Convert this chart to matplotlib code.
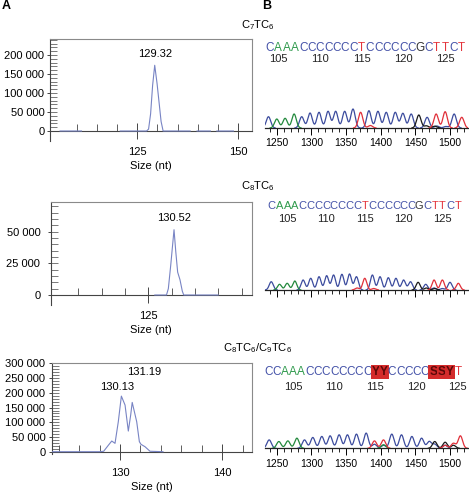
import numpy as np
import matplotlib
matplotlib.use("Agg")
import matplotlib.pyplot as plt
import matplotlib.transforms as mtransforms
from matplotlib.ticker import FixedLocator, FuncFormatter, MultipleLocator

plt.rcParams["font.family"] = ["Liberation Sans", "DejaVu Sans"]
plt.rcParams["mathtext.default"] = "regular"

W, H = 469, 493  # output size in pixels
DPI = 100
nan = np.nan

# ---------------------------------------------------------------- panel A data
# fragment sizing traces: size (nt) vs signal (RFU), NaN = gap in the trace
a_titles = ["C$_7$TC$_6$", "C$_8$TC$_6$", "C$_8$TC$_6$/C$_9$TC$_6$"]

a1_size = [105.9, 111.2, nan, 120.8, 127.3, 127.8, 128.3, 128.8, 129.32, 129.9,
           130.4, 130.9, 131.4, 138.1, nan, 139.8, 143.1, nan, 144.7, 148.8]
a1_rfu = [0, 0, nan, 0, 0, 5000, 45000, 120000, 173000, 125000,
          75000, 25000, 0, 0, nan, 0, 0, nan, 0, 0]
a1_peaks = [129.32]

a2_size = [126.4, 128.9, 129.3, 129.8, 130.52, 130.9, 131.3, 131.8, 132.3, 132.6, 140.0]
a2_rfu = [0, 0, 5000, 23000, 51500, 34000, 18000, 12000, 3000, 0, 0]
a2_peaks = [130.52]

a3_size = [123.4, 128.0, 128.4, 128.86, 129.19, 129.51, 129.83, 130.13, 130.49,
           130.81, 131.04, 131.19, 131.63, 131.89, 132.05, 132.44, 132.93, 134.2]
a3_rfu = [0, 0, 1500, 22000, 36300, 28500, 101800, 189000, 158500,
          70200, 124500, 167600, 101800, 34000, 25000, 17000, 1500, 0]
a3_peaks = [130.13, 131.19]

# ---------------------------------------------------------------- panel B data
seq_b1 = "CAAACCCCCCCTCCCCCCGCTTCT"
seq_b2 = "CAAACCCCCCCCTCCCCCCGCTTCT"
seq_b3 = "CCAAACCCCCCCCYYCCCCCSSYT"
seq_numbers = [105, 110, 115, 120, 125]

# chromatogram peaks: scan position, height, base channel
b1_pos = [1238, 1250, 1262, 1275, 1286, 1298, 1311, 1324, 1335, 1348, 1360, 1371,
          1383, 1396, 1408, 1421, 1432, 1444, 1455, 1467, 1480, 1493, 1506, 1517]
b1_height = [1130, 900, 970, 1400, 1130, 1500, 1570, 1670, 1670, 1670, 1900, 1570,
             1730, 1670, 1570, 1570, 1470, 1400, 1300, 1070, 1400, 1630, 1400, 1070]
b1_base = "CAAACCCCCCCTCCCCCCGCTTCT"
b1_minor_pos = [1385, 1466, 1478, 1481, 1494]
b1_minor_height = [250, 220, 180, 200, 150]
b1_minor_base = "TGGCC"

b2_pos = [1242, 1254, 1265, 1276, 1288, 1299, 1311, 1322, 1332, 1344, 1355, 1365, 1377,
          1388, 1399, 1411, 1422, 1433, 1443, 1454, 1465, 1477, 1489, 1500, 1512]
b2_height = [830, 570, 670, 900, 1000, 1170, 1330, 1430, 1500, 1570, 1600, 1330, 1170,
             1500, 1330, 1230, 1170, 1000, 830, 770, 570, 1000, 1000, 770, 670]
b2_base = "CAAACCCCCCCCTCCCCCCGCTTCT"
b2_minor_pos = [1366, 1390, 1466, 1478, 1477, 1489]
b2_minor_height = [200, 150, 200, 150, 200, 150]
b2_minor_base = "TTGGCC"

b3_pos = [1239, 1253, 1266, 1279, 1290, 1302, 1315, 1327, 1340, 1352, 1365, 1379,
          1391, 1404, 1416, 1430, 1445, 1459, 1470, 1478, 1493, 1505, 1515]
b3_height = [830, 670, 730, 1000, 830, 1070, 1170, 1230, 1330, 1330, 1400, 1500,
             730, 830, 1400, 1330, 1170, 1000, 670, 670, 600, 500, 1230]
b3_base = "CAAACCCCCCCCTTCCCCCGGTT"
b3_minor_pos = [1391, 1404, 1404, 1478, 1493, 1505, 1493]
b3_minor_height = [400, 350, 300, 400, 300, 300, 300]
b3_minor_base = "CACCCGT"

TEXT_COLORS = {"A": "#2f9a4c", "C": "#4452a8", "G": "#333333", "T": "#e3343c"}
TRACE_COLORS = {"C": "#3c4c9e", "A": "#23893d", "G": "#1a1a1a", "T": "#e0303a"}
TRACE_A = "#7884c4"
XLIM_B = (1233, 1526)


def px_axes(fig, left, top, right, bottom):
    return fig.add_axes([left / W, 1 - bottom / H, (right - left) / W, (bottom - top) / H])


def fig_text(fig, x, y, s, **kw):
    fig.text(x / W, 1 - y / H, s, ha="center", va="center", **kw)


def draw_sizing(fig, box, xlim, ylim, size, rfu, peaks, offsets,
                major_x, minor_x, major_y, minor_y, ypad):
    ax = px_axes(fig, *box)
    ax.plot(size, rfu, color=TRACE_A, lw=0.8, zorder=3)
    ax.set_xlim(*xlim)
    ax.set_ylim(*ylim)
    ax.set_facecolor("none")

    for side in ("left", "bottom"):
        ax.spines[side].set_color("#444444")
        ax.spines[side].set_linewidth(0.8)
    for side in ("top", "right"):
        ax.spines[side].set_color("#8a8a8a")
        ax.spines[side].set_linewidth(0.8)
    ax.spines["bottom"].set_position(("data", 0))
    ax.spines["right"].set_bounds(0, ylim[1])

    ax.xaxis.set_major_locator(FixedLocator(major_x))
    ax.xaxis.set_minor_locator(FixedLocator(minor_x))
    ax.yaxis.set_major_locator(MultipleLocator(major_y))
    ax.yaxis.set_minor_locator(FixedLocator(np.arange(0, ylim[1] + 1, minor_y)))
    ax.yaxis.remove_overlapping_locs = False
    ax.yaxis.set_major_formatter(FuncFormatter(lambda v, _: f"{v:,.0f}".replace(",", " ")))

    ax.tick_params(axis="x", which="major", direction="inout", length=12, width=0.7,
                   pad=5.5, labelsize=8, color="#444444")
    ax.tick_params(axis="x", which="minor", direction="in", length=5, width=0.6, color="#444444")
    ax.tick_params(axis="y", which="major", direction="out", length=2.5, width=0.7,
                   pad=ypad, labelsize=8, color="#444444")
    ax.tick_params(axis="y", which="minor", direction="in", length=5, width=0.5, color="#444444")
    ax.set_xlabel("Size (nt)", fontsize=8, labelpad=3)

    for p, (dx, dy) in zip(peaks, offsets):
        top = rfu[size.index(p)]
        ax.annotate(f"{p:.2f}", xy=(p, top), xytext=(dx, dy), textcoords="offset points",
                    ha="center", va="center", fontsize=8)
    return ax


def draw_chromatogram(fig, box, pos, height, bases, mpos, mheight, mbases, sigma,
                      seq, seq_start, seq_step, first_num, y_letters, y_numbers, labels,
                      letter_size):
    ax = px_axes(fig, *box)
    grid = np.linspace(XLIM_B[0], XLIM_B[1], 1500)
    all_pos = list(pos) + list(mpos)
    all_h = list(height) + list(mheight)
    all_b = bases + mbases
    for ch in "CAGT":
        sig = np.zeros_like(grid)
        for p, h, b in zip(all_pos, all_h, all_b):
            if b == ch:
                sig += h * np.exp(-0.5 * ((grid - p) / sigma) ** 2)
        sig[sig < 10] = nan
        ax.plot(grid, sig, color=TRACE_COLORS[ch], lw=0.9, zorder=3)

    ax.set_xlim(*XLIM_B)
    ax.set_ylim(0, 2200)
    ax.set_facecolor("none")
    for side in ("left", "right", "top"):
        ax.spines[side].set_visible(False)
    ax.spines["bottom"].set_color("#222222")
    ax.spines["bottom"].set_linewidth(0.9)
    ax.set_yticks([])
    ax.xaxis.set_major_locator(MultipleLocator(50))
    ax.xaxis.set_minor_locator(MultipleLocator(10))
    ax.tick_params(axis="x", which="major", direction="out", length=5, width=0.7,
                   pad=2.5, labelsize=7.5, labelbottom=labels)
    ax.tick_params(axis="x", which="minor", direction="out", length=3, width=0.6)

    trans = mtransforms.blended_transform_factory(ax.transData, fig.transFigure)
    for i, ch in enumerate(seq):
        x = seq_start + i * seq_step
        if ch in TEXT_COLORS:
            ax.text(x, 1 - y_letters / H, ch, transform=trans, ha="center", va="center",
                    fontsize=letter_size, color=TEXT_COLORS[ch])
        else:
            ax.text(x, 1 - y_letters / H, ch, transform=trans, ha="center", va="center",
                    fontsize=letter_size, color="#5a0808", fontweight="bold",
                    bbox=dict(boxstyle="square,pad=0.08", fc="#d42b2b", ec="none"))
    for n in seq_numbers:
        x = seq_start + (n - first_num) * seq_step
        ax.text(x, 1 - y_numbers / H, str(n), transform=trans, ha="center", va="center",
                fontsize=8, color="#222222")
    return ax


def main():
    fig = plt.figure(figsize=(W / DPI, H / DPI), dpi=DPI)
    fig.patch.set_facecolor("white")

    fig_text(fig, 6, 6, "A", fontsize=9, fontweight="bold")
    fig_text(fig, 267, 6, "B", fontsize=9, fontweight="bold")
    for title, y in zip(a_titles, (25, 186, 348)):
        fig_text(fig, 258, y, title, fontsize=8)

    draw_sizing(fig, (50, 39, 252, 141), (103.4, 153.4), (-26300, 242100),
                a1_size, a1_rfu, a1_peaks, [(0, 8.3)],
                [125, 150], [110, 115, 120, 130, 135, 140, 145], 50000, 10000, 1.5)
    draw_sizing(fig, (50.7, 202.3, 252, 305), (104.06, 147.25), (-7890, 73110),
                a2_size, a2_rfu, a2_peaks, [(0, 8.1)],
                [125], [110, 115, 120, 130, 135, 140, 145], 25000, 5000, 5)
    draw_sizing(fig, (51.7, 363.3, 252, 454), (123.32, 142.9), (-7800, 300500),
                a3_size, a3_rfu, a3_peaks, [(-2.9, 6.7), (8.4, 22)],
                [130, 140], list(range(124, 143, 2)), 50000, 10000, 2)

    draw_chromatogram(fig, (265, 106, 468, 128), b1_pos, b1_height, b1_base,
                      b1_minor_pos, b1_minor_height, b1_minor_base, 3.2,
                      seq_b1, 1240, 12.04, 104, 48, 58.5, True, 8.5)
    draw_chromatogram(fig, (265, 268, 468, 290), b2_pos, b2_height, b2_base,
                      b2_minor_pos, b2_minor_height, b2_minor_base, 2.9,
                      seq_b2, 1242.8, 11.2, 103, 206, 219.5, False, 8)
    draw_chromatogram(fig, (265, 426, 468, 448.3), b3_pos, b3_height, b3_base,
                      b3_minor_pos, b3_minor_height, b3_minor_base, 3.2,
                      seq_b3, 1237.7, 11.9, 102, 372, 387, True, 8.5)

    fig.savefig("out.png", dpi=DPI, facecolor="white")


if __name__ == "__main__":
    main()
